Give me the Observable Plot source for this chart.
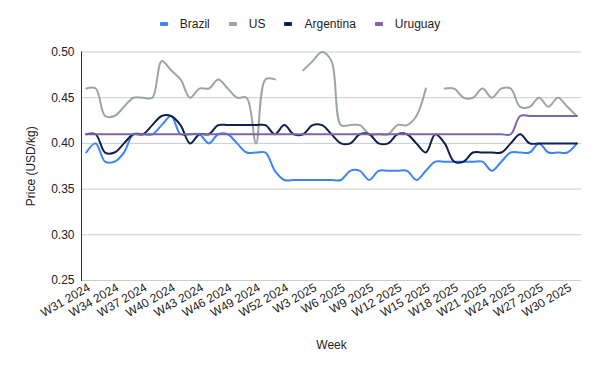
<!DOCTYPE html>
<html>
<head>
<meta charset="utf-8">
<script src="https://cdn.jsdelivr.net/npm/d3@7"></script>
<script src="https://cdn.jsdelivr.net/npm/@observablehq/plot@0.6"></script>
<style>
  html, body { margin: 0; padding: 0; background: #fff; }
  body { width: 600px; height: 371px; overflow: hidden; font-family: "Liberation Sans", Arial, sans-serif; }
  #legend { height: 40px; box-sizing: border-box; padding-top: 8px; display: flex; justify-content: center; align-items: center; gap: 19px; font-size: 12px; color: #222; }
  .item { display: flex; align-items: center; }
  .sw { width: 8px; height: 4px; border-radius: 1px; margin-right: 12px; }
  #chart svg { display: block; }
</style>
</head>
<body>
<div id="legend"></div>
<div id="chart"></div>
<script>
const weeks = [
  "W31 2024","W32 2024","W33 2024","W34 2024","W35 2024","W36 2024","W37 2024","W38 2024","W39 2024","W40 2024",
  "W41 2024","W42 2024","W43 2024","W44 2024","W45 2024","W46 2024","W47 2024","W48 2024","W49 2024","W50 2024",
  "W51 2024","W52 2024","W1 2025","W2 2025","W3 2025","W4 2025","W5 2025","W6 2025","W7 2025","W8 2025",
  "W9 2025","W10 2025","W11 2025","W12 2025","W13 2025","W14 2025","W15 2025","W16 2025","W17 2025","W18 2025",
  "W19 2025","W20 2025","W21 2025","W22 2025","W23 2025","W24 2025","W25 2025","W26 2025","W27 2025","W28 2025",
  "W29 2025","W30 2025","W31 2025"
];
const xTickLabels = [
  "W31 2024","W34 2024","W37 2024","W40 2024","W43 2024","W46 2024","W49 2024","W52 2024",
  "W3 2025","W6 2025","W9 2025","W12 2025","W15 2025","W18 2025","W21 2025","W24 2025","W27 2025","W30 2025"
];
const yTicks = [0.25, 0.30, 0.35, 0.40, 0.45, 0.50];

const seriesNames = ["Brazil", "US", "Argentina", "Uruguay"];
const seriesColors = ["#3d85f2", "#9aa89a", "#0f1f4f", "#8064a8"];

const brazil = [
  0.39,0.40,0.38,0.38,0.39,0.41,0.41,0.41,0.42,0.43,
  0.41,0.41,0.41,0.40,0.41,0.41,0.40,0.39,0.39,0.39,
  0.37,0.36,0.36,0.36,0.36,0.36,0.36,0.36,0.37,0.37,
  0.36,0.37,0.37,0.37,0.37,0.36,0.37,0.38,0.38,0.38,
  0.38,0.38,0.38,0.37,0.38,0.39,0.39,0.39,0.40,0.39,
  0.39,0.39,0.40
];
const us = [
  0.46,0.46,0.43,0.43,0.44,0.45,0.45,0.45,0.49,0.48,
  0.47,0.45,0.46,0.46,0.47,0.46,0.45,0.45,0.40,0.47,
  0.47,null,null,0.48,0.49,0.50,0.49,0.42,0.42,0.42,
  0.41,0.41,0.41,0.42,0.42,0.43,0.46,null,0.46,0.46,
  0.45,0.45,0.46,0.45,0.46,0.46,0.44,0.44,0.45,0.44,
  0.45,0.44,0.43
];
const argentina = [
  0.41,0.41,0.39,0.39,0.40,0.41,0.41,0.42,0.43,0.43,
  0.42,0.40,0.41,0.41,0.42,0.42,0.42,0.42,0.42,0.42,
  0.41,0.42,0.41,0.41,0.42,0.42,0.41,0.40,0.40,0.41,
  0.41,0.40,0.40,0.41,0.41,0.40,0.39,0.41,0.40,0.38,
  0.38,0.39,0.39,0.39,0.39,0.40,0.41,0.40,0.40,0.40,
  0.40,0.40,0.40
];
const uruguay = [
  0.41,0.41,0.41,0.41,0.41,0.41,0.41,0.41,0.41,0.41,
  0.41,0.41,0.41,0.41,0.41,0.41,0.41,0.41,0.41,0.41,
  0.41,0.41,0.41,0.41,0.41,0.41,0.41,0.41,0.41,0.41,
  0.41,0.41,0.41,0.41,0.41,0.41,0.41,0.41,0.41,0.41,
  0.41,0.41,0.41,0.41,0.41,0.41,0.43,0.43,0.43,0.43,
  0.43,0.43,0.43
];

const seriesValues = [brazil, us, argentina, uruguay];
const rows = [];
seriesNames.forEach((name, s) => {
  weeks.forEach((w, i) => {
    const v = seriesValues[s][i];
    rows.push({series: name, week: w, value: v == null ? NaN : v});
  });
});

// Legend
const legend = document.getElementById("legend");
seriesNames.forEach((name, i) => {
  const item = document.createElement("div");
  item.className = "item";
  const sw = document.createElement("span");
  sw.className = "sw";
  sw.style.background = seriesColors[i];
  const t = document.createElement("span");
  t.textContent = name;
  item.appendChild(sw);
  item.appendChild(t);
  legend.appendChild(item);
});

const chart = Plot.plot({
  width: 600,
  height: 331,
  marginTop: 11.5,
  marginBottom: 91,
  marginLeft: 81,
  marginRight: 19,
  style: {fontFamily: "'Liberation Sans', Arial, sans-serif", fontSize: "12px", color: "#222", background: "#fff"},
  x: {type: "point", domain: weeks, padding: 0.5, round: false, label: null},
  y: {domain: [0.25, 0.50], label: null},
  color: {domain: seriesNames, range: seriesColors},
  marks: [
    Plot.ruleY(yTicks, {stroke: "#cccccc", strokeWidth: 1}),
    Plot.frame({anchor: "left", stroke: "#333", strokeWidth: 1}),
    Plot.axisY({ticks: yTicks, tickFormat: d => d.toFixed(2), tickSize: 0, tickPadding: 7,
                label: "Price (USD/kg)", labelArrow: "none", labelAnchor: "center", labelOffset: 55}),
    Plot.axisX({ticks: xTickLabels, tickRotate: -30, tickSize: 0, tickPadding: 6, dx: 3,
                label: "Week", labelArrow: "none", labelAnchor: "center", labelOffset: 68}),
    Plot.line(rows, {x: "week", y: "value", z: "series", stroke: "series",
                     curve: "catmull-rom", strokeWidth: 2})
  ]
});
document.getElementById("chart").appendChild(chart);
</script>
</body>
</html>
